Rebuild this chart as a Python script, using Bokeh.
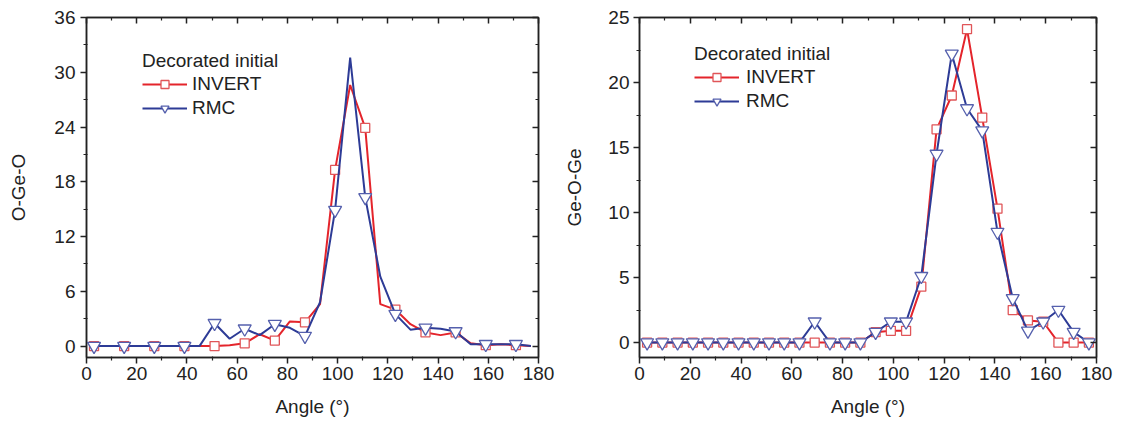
from bokeh.plotting import figure
from bokeh.models import (Range1d, FixedTicker, LinearAxis, Legend, LegendItem,
                          ColumnDataSource, CustomJSTickFormatter)
from bokeh.layouts import row
from bokeh.embed import file_html
from bokeh.resources import INLINE

# ---------------- data ----------------
angle = [3, 9, 15, 21, 27, 33, 39, 45, 51, 57, 63, 69, 75, 81, 87,
         93, 99, 105, 111, 117, 123, 129, 135, 141, 147, 153, 159, 165, 171, 177]

oge_invert = [0, 0, 0, 0, 0, 0, 0, 0, 0, 0.1, 0.3, 1.3, 0.6, 2.7, 2.6,
              4.6, 19.3, 28.6, 23.9, 4.6, 4.0, 2.4, 1.5, 1.2, 1.5, 0.3, 0.1, 0.2, 0.1, 0]
oge_rmc = [0, 0, 0, 0, 0, 0, 0, 0, 2.5, 0.8, 1.9, 1.2, 2.4, 2.0, 1.1,
           4.8, 14.9, 31.6, 16.3, 7.6, 3.5, 1.8, 2.0, 1.9, 1.6, 0.2, 0.2, 0.2, 0.2, 0]

geo_invert = [0, 0, 0, 0, 0, 0, 0, 0, 0, 0, 0, 0, 0, 0, 0,
              0.8, 0.9, 0.9, 4.3, 16.4, 19.0, 24.1, 17.3, 10.3, 2.5, 1.7, 1.6, 0, 0, 0]
geo_rmc = [0, 0, 0, 0, 0, 0, 0, 0, 0, 0, 0, 1.6, 0, 0, 0,
           0.8, 1.6, 1.6, 5.1, 14.5, 22.2, 18.0, 16.3, 8.5, 3.4, 0.9, 1.6, 2.5, 0.8, 0]

x_ticks = [0, 20, 40, 60, 80, 100, 120, 140, 160, 180]
x_minor = [10, 30, 50, 70, 90, 110, 130, 150, 170]
oge_ticks = [0, 6, 12, 18, 24, 30, 36]
oge_minor = [3, 9, 15, 21, 27, 33]
geo_ticks = [0, 5, 10, 15, 20, 25]
geo_minor = [2.5, 7.5, 12.5, 17.5, 22.5]

series_names = ["INVERT", "RMC"]
legend_title = "Decorated initial"

RED = "#e4242b"
BLUE = "#2d3b96"
RED_M = "#e05558"
BLUE_M = "#5560ad"
FONT = "Liberation Sans"
AX = "#222222"


def style_axis(ax, ticker, outward, show_labels=True):
    ax.ticker = ticker
    if outward:
        ax.major_tick_in, ax.major_tick_out = 0, 6
        ax.minor_tick_in, ax.minor_tick_out = 1, 3
    else:
        ax.major_tick_in, ax.major_tick_out = 6, 0
        ax.minor_tick_in, ax.minor_tick_out = 3, 0
    ax.axis_line_color = AX
    ax.axis_line_width = 1.5
    ax.major_tick_line_color = AX
    ax.major_tick_line_width = 1.5
    ax.minor_tick_line_color = AX
    ax.minor_tick_line_width = 1.2
    ax.major_label_text_font = FONT
    if show_labels:
        ax.major_label_text_color = AX
        ax.major_label_text_font_size = "19px"
    else:
        ax.formatter = CustomJSTickFormatter(code="return ''")
        ax.major_label_text_color = None
        ax.major_label_text_font_size = "1px"
        ax.major_label_standoff = 0


def panel(inv, rmc, ylabel, y0, y1, yt, ym, step, w, bl, br, bt, bb,
          ylab_standoff, ytick_standoff, leg_xy, leg_standoff):
    p = figure(width=w, height=426, output_backend="svg", toolbar_location=None,
               x_range=Range1d(0, 180), y_range=Range1d(y0, y1),
               min_border_left=bl, min_border_right=br, min_border_top=bt, min_border_bottom=bb)
    p.xgrid.visible = False
    p.ygrid.visible = False
    p.outline_line_color = AX
    p.outline_line_width = 1.5
    p.background_fill_color = "white"
    p.border_fill_color = "white"

    style_axis(p.xaxis[0], FixedTicker(ticks=x_ticks, minor_ticks=x_minor), True)
    style_axis(p.yaxis[0], FixedTicker(ticks=yt, minor_ticks=ym), True)
    p.xaxis[0].major_label_standoff = 3
    p.yaxis[0].major_label_standoff = ytick_standoff
    p.xaxis[0].axis_label = "Angle (°)"
    p.yaxis[0].axis_label = ylabel
    for ax in (p.xaxis[0], p.yaxis[0]):
        ax.axis_label_text_font = FONT
        ax.axis_label_text_font_size = "19px"
        ax.axis_label_text_font_style = "normal"
        ax.axis_label_text_color = AX
    p.xaxis[0].axis_label_standoff = 13
    p.yaxis[0].axis_label_standoff = ylab_standoff

    top = LinearAxis()
    style_axis(top, FixedTicker(ticks=x_ticks, minor_ticks=x_minor), False, False)
    p.add_layout(top, "above")
    right = LinearAxis()
    style_axis(right, FixedTicker(ticks=yt, minor_ticks=ym), False, False)
    p.add_layout(right, "right")

    src = ColumnDataSource(dict(x=angle, inv=inv, rmc=rmc))
    msrc = ColumnDataSource(dict(x=angle[::step], inv=inv[::step], rmc=rmc[::step]))

    l1 = p.line("x", "inv", source=src, line_color=RED, line_width=2)
    m1 = p.scatter("x", "inv", source=msrc, marker="square", size=9,
                   fill_color="white", line_color=RED_M, line_width=1.3)
    l2 = p.line("x", "rmc", source=src, line_color=BLUE, line_width=2)
    m2 = p.scatter("x", "rmc", source=msrc, marker="inverted_triangle", size=13,
                   fill_color="white", line_color=BLUE_M, line_width=1.3)

    leg = Legend(items=[LegendItem(label=series_names[0], renderers=[l1, m1]),
                        LegendItem(label=series_names[1], renderers=[l2, m2])],
                 location=leg_xy, title=legend_title)
    leg.title_text_font = FONT
    leg.title_text_font_size = "19px"
    leg.title_text_font_style = "normal"
    leg.title_text_color = AX
    leg.title_standoff = 1
    leg.label_text_font = FONT
    leg.label_text_font_size = "19px"
    leg.label_text_color = AX
    leg.glyph_width = 45
    leg.glyph_height = 20
    leg.label_height = 20
    leg.label_standoff = leg_standoff
    leg.spacing = 2
    leg.padding = 0
    leg.margin = 0
    leg.border_line_alpha = 0
    leg.background_fill_alpha = 0
    p.add_layout(leg, "center")
    return p


left = panel(oge_invert, oge_rmc, "O-Ge-O", -1.25, 36, oge_ticks, oge_minor, 2,
             561, 86, 23, 17, 69, 22, 5, (56, 238), 5)
right = panel(geo_invert, geo_rmc, "Ge-O-Ge", -1.15, 25, geo_ticks, geo_minor, 1,
              561, 77, 26, 16, 69, 20, 4, (55, 245), 7)

layout = row(left, right)
open("out.html", "w").write(file_html(layout, INLINE))
